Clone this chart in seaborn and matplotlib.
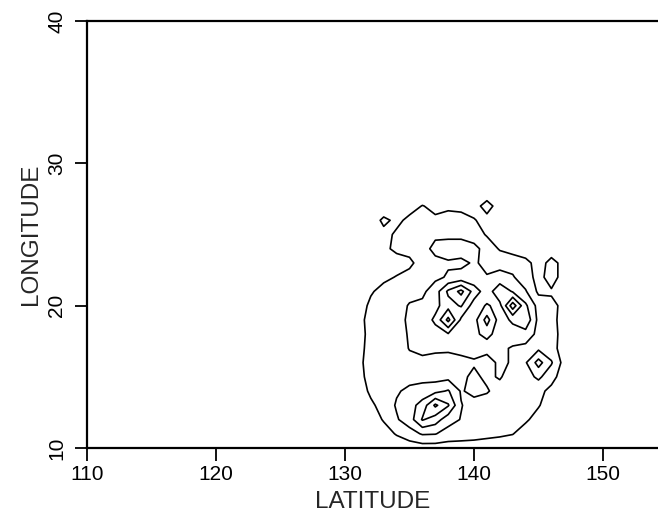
import numpy as np
import matplotlib
matplotlib.use("Agg")
import matplotlib.pyplot as plt
import seaborn as sns

# Grid coordinates (degrees) of the estimated density field
lons = list(range(130, 149))          # x axis ("LATITUDE" label in the original)
lats = list(range(28, 9, -1))         # y axis, top row first

# Estimated field values (rows: lat 28 ... 10)
r28 = [0, 0, 0, 0, 0, 0, 0, 0, 0, 0, 0, 0, 0, 0, 0, 0, 0, 0, 0]
r27 = [0, 0, 0, 0, 0.3, 0.5, 1.05, 0.7, 0.8, 0.7, 0.4, 1.6, 0.3, 0, 0, 0, 0, 0, 0]
r26 = [0, 0, 0.2, 1.3, 0.7, 1.3, 1.6, 1.2, 1.4, 1.4, 1.1, 0.5, 0.2, 0, 0, 0, 0, 0, 0]
r25 = [0, 0, 0.3, 0.6, 1.2, 1.5, 1.6, 1.8, 1.8, 1.8, 1.5, 0.9, 0.4, 0.2, 0, 0, 0, 0, 0]
r24 = [0, 0.1, 0.5, 0.8, 1.2, 1.3, 1.6, 2.3, 2.4, 2.4, 2.3, 1.6, 0.9, 0.6, 0.4, 0.2, 0.5, 0.2, 0]
r23 = [0, 0.2, 0.4, 0.5, 0.6, 0.8, 1.4, 1.7, 1.9, 1.8, 2.1, 1.8, 1.7, 1.6, 1.3, 0.6, 1.3, 0.7, 0]
r22 = [0, 0.1, 0.5, 0.8, 1.05, 1.3, 1.5, 1.8, 2.1, 2.3, 2.2, 2.05, 2.3, 2.1, 1.4, 0.7, 1.4, 0.6, 0]
r21 = [0, 0.3, 0.9, 1.3, 1.4, 1.6, 1.8, 2.5, 4.2, 5.3, 3.6, 2.4, 3.8, 2.9, 2.1, 0.8, 0.9, 0.4, 0]
r20 = [0, 0.5, 1.2, 1.4, 1.5, 2.1, 2.2, 2.7, 3.6, 4.1, 2.5, 3.1, 2.7, 5.6, 3.2, 1.6, 1.2, 0.8, 0.2]
r19 = [0, 0.7, 1.3, 1.5, 1.6, 2.2, 2.4, 3.2, 5.3, 2.8, 2.6, 4.4, 2.5, 3.2, 3.8, 1.7, 1.3, 0.6, 0.3]
r18 = [0, 0.6, 1.3, 1.5, 1.6, 2.1, 2.3, 2.6, 2.9, 2.5, 2.7, 3.4, 2.4, 2.5, 2.6, 1.7, 1.3, 0.7, 0]
r17 = [0, 0.7, 1.3, 1.4, 1.5, 2.05, 2.2, 2.1, 2.2, 2.3, 2.3, 2.3, 2.2, 1.9, 1.7, 1.8, 1.4, 0.5, 0]
r16 = [0, 0.8, 1.3, 1.5, 1.6, 1.7, 1.8, 1.8, 1.5, 1.7, 1.9, 1.6, 2.2, 1.9, 1.9, 3.4, 2.1, 0.6, 0]
r15 = [0, 0.7, 1.3, 1.5, 1.6, 1.7, 1.7, 1.6, 1.7, 1.8, 2.2, 1.8, 2.1, 1.5, 1.6, 2.2, 1.4, 0.4, 0]
r14 = [0, 0.4, 1.2, 1.5, 1.9, 2.2, 2.4, 2.7, 3.1, 1.9, 2.3, 2.1, 1.6, 1.5, 1.5, 1.3, 0.7, 0.2, 0]
r13 = [0, 0.2, 0.8, 1.4, 2.1, 2.6, 3.4, 5.2, 4.1, 2.05, 1.6, 1.5, 1.4, 1.8, 1.4, 1.1, 0.3, 0, 0]
r12 = [0, 0, 0.4, 1.1, 1.9, 2.5, 4.1, 3.5, 2.4, 1.95, 1.7, 1.6, 1.5, 1.4, 1.2, 0.5, 0, 0, 0]
r11 = [0, 0, 0, 0.5, 1.1, 1.6, 2.1, 2.05, 1.6, 1.5, 1.4, 1.3, 1.2, 1.05, 0.4, 0, 0, 0, 0]
r10 = [0, 0, 0, 0, 0.2, 0.4, 0.5, 0.5, 0.5, 0.5, 0.5, 0.4, 0.3, 0.1, 0, 0, 0, 0, 0]

levels = [1, 2, 3, 4, 5]
xticks = [110, 120, 130, 140, 150]
yticks = [10, 20, 30, 40]

Z = np.array([r28, r27, r26, r25, r24, r23, r22, r21, r20, r19,
              r18, r17, r16, r15, r14, r13, r12, r11, r10])
X, Y = np.meshgrid(lons, lats)

sns.set_style("ticks")
plt.rcParams['font.family'] = ['Liberation Sans', 'DejaVu Sans']

W, H = 658, 526
fig = plt.figure(figsize=(W / 100, H / 100), dpi=100)
left, right, bottom, top = 87, 658, 448, 21
ax = fig.add_axes([left / W, 1 - bottom / H, (right - left) / W, (bottom - top) / H])

ax.contour(X, Y, Z, levels=levels, colors='black', linewidths=1.2)

ax.set_xlim(110, 110 + (right - left) / 12.9)
ax.set_ylim(10, 40)
ax.set_xticks(xticks)
ax.set_yticks(yticks)
ax.set_xticklabels([str(v) for v in xticks], fontsize=15)
ax.set_yticklabels([str(v) for v in yticks], fontsize=15, rotation=90, va='center')
ax.tick_params(axis='x', direction='out', length=9, width=1.3, pad=3, colors='black')
ax.tick_params(axis='y', direction='out', length=9, width=1.3, pad=6, colors='black')

for side in ['left', 'bottom', 'top']:
    ax.spines[side].set_linewidth(1.6)
    ax.spines[side].set_color('black')
ax.spines['right'].set_visible(False)

ax.set_xlabel('LATITUDE', fontsize=17.5, labelpad=5)
ax.set_ylabel('LONGITUDE', fontsize=17.5, labelpad=4)
ax.set_facecolor('white')
fig.patch.set_facecolor('white')

fig.savefig('out.png', dpi=100)
